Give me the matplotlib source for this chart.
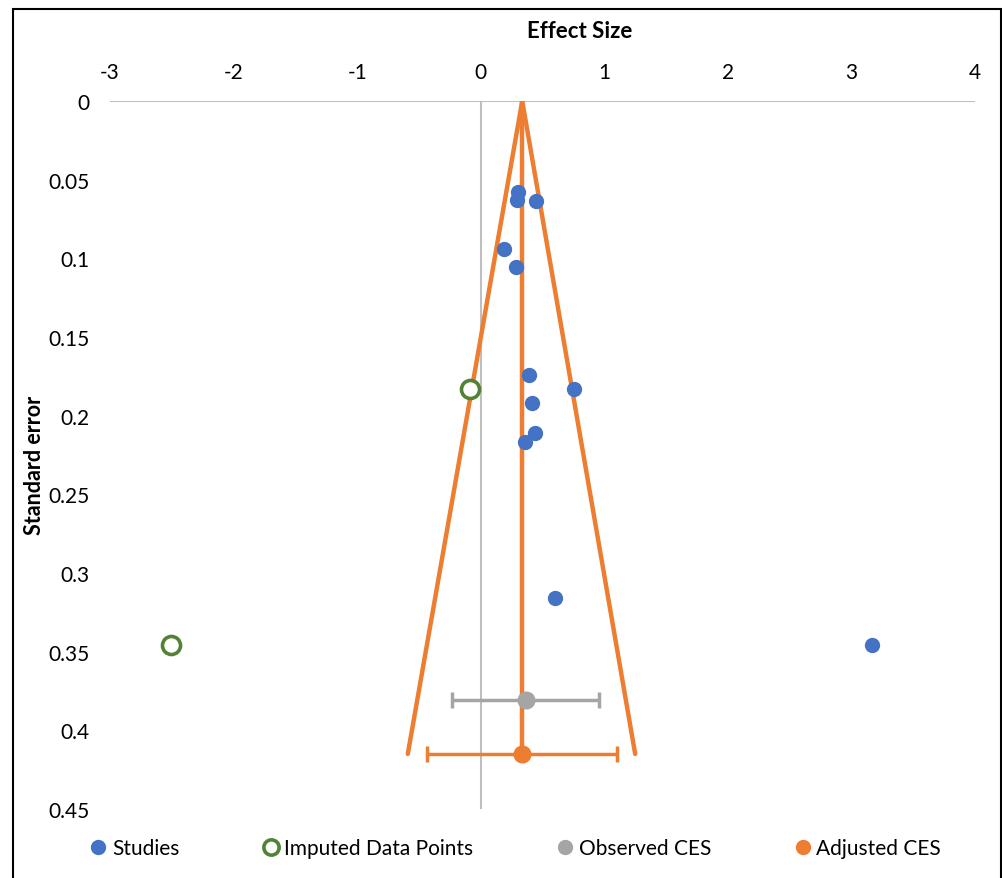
import matplotlib.pyplot as plt
from matplotlib.patches import Rectangle
from matplotlib.lines import Line2D

plt.rcParams['font.family'] = ['Lato', 'DejaVu Sans']
plt.rcParams['axes.unicode_minus'] = False

# studies (effect size, standard error)
study_es = [0.301, 0.295, 0.447, 0.190, 0.287, 0.387, 0.754, 0.419, 0.443, 0.362, 0.603, 3.167]
study_se = [0.0577, 0.0627, 0.0634, 0.094, 0.1057, 0.174, 0.183, 0.1918, 0.2113, 0.217, 0.316, 0.3458]

# imputed points (trim and fill)
imp_es = [-0.085, -2.504]
imp_se = [0.1833, 0.3458]

# combined effect sizes
obs_es, obs_se, obs_lo, obs_hi = 0.368, 0.3808, -0.229, 0.961
adj_es, adj_se, adj_lo, adj_hi = 0.336, 0.415, -0.432, 1.104

# funnel
funnel_x = [-0.59, 0.336, 1.25]
funnel_y = [0.415, 0.0, 0.415]
center_x = [0.336, 0.336]
center_y = [0.0, 0.415]

blue = '#4472C4'
green = '#548235'
gray = '#A5A5A5'
orange = '#ED7D31'

fig = plt.figure(figsize=(10.03, 8.79), dpi=100)
ax = fig.add_axes([110/1003, 1 - 810/879, 865/1003, 708/879])

ax.axvline(0, color='#BFBFBF', lw=1.5, zorder=1)
ax.axhline(0, color='#BFBFBF', lw=1.5, zorder=1)

ax.plot(funnel_x, funnel_y, color=orange, lw=3.2, solid_capstyle='round', zorder=2)
ax.plot(center_x, center_y, color=orange, lw=3.2, zorder=2)

ax.errorbar([obs_es], [obs_se], xerr=[[obs_es - obs_lo], [obs_hi - obs_es]], fmt='o',
            color=gray, ecolor=gray, elinewidth=2.5, capsize=6, capthick=2.5,
            markersize=12, markeredgecolor=gray, zorder=4)
ax.errorbar([adj_es], [adj_se], xerr=[[adj_es - adj_lo], [adj_hi - adj_es]], fmt='o',
            color=orange, ecolor=orange, elinewidth=2.5, capsize=6, capthick=2.5,
            markersize=12, markeredgecolor=orange, zorder=4)

ax.plot(study_es, study_se, 'o', color=blue, markersize=10, zorder=5)
ax.plot(imp_es, imp_se, 'o', markerfacecolor='white', markeredgecolor=green,
        markeredgewidth=2.6, markersize=13, zorder=5)

ax.set_xlim(-3, 4)
ax.set_ylim(0.45, 0)
ax.set_xticks(range(-3, 5))
ax.set_yticks([0, 0.05, 0.1, 0.15, 0.2, 0.25, 0.3, 0.35, 0.4, 0.45])
ax.set_yticklabels(['0', '0.05', '0.1', '0.15', '0.2', '0.25', '0.3', '0.35', '0.4', '0.45'])
ax.xaxis.tick_top()
ax.xaxis.set_label_position('top')
ax.tick_params(length=0, labelsize=15, colors='black')
ax.tick_params(axis='x', pad=14)
ax.tick_params(axis='y', pad=15)
for s in ax.spines.values():
    s.set_visible(False)

# axis titles placed like the Excel chart
fig.text(580/1003, 1 - 32/879, 'Effect Size', fontsize=16, fontweight='bold',
         ha='center', va='center')
fig.text(35/1003, 1 - 465/879, 'Standard error', rotation=90, fontsize=15.5,
         fontweight='bold', ha='center', va='center')

handles = [
    Line2D([], [], ls='', marker='o', color=blue, markersize=10),
    Line2D([], [], ls='', marker='o', markerfacecolor='white', markeredgecolor=green,
           markeredgewidth=2.6, markersize=11),
    Line2D([], [], ls='', marker='o', color=gray, markersize=10),
    Line2D([], [], ls='', marker='o', color=orange, markersize=10),
]
labels = ['Studies', 'Imputed Data Points', 'Observed CES', 'Adjusted CES']
fig.legend(handles, labels, loc='center', bbox_to_anchor=(0.513, 1 - 849/879), ncol=4,
           frameon=False, fontsize=15, handletextpad=0.15, columnspacing=3.9,
           handlelength=1.0)

fig.patches.append(Rectangle((13/1003, -0.05), (1001 - 13)/1003, 1.05 - 10/879,
                             transform=fig.transFigure, fill=False, edgecolor='black',
                             lw=1.5))

fig.savefig('out.png', dpi=100)
